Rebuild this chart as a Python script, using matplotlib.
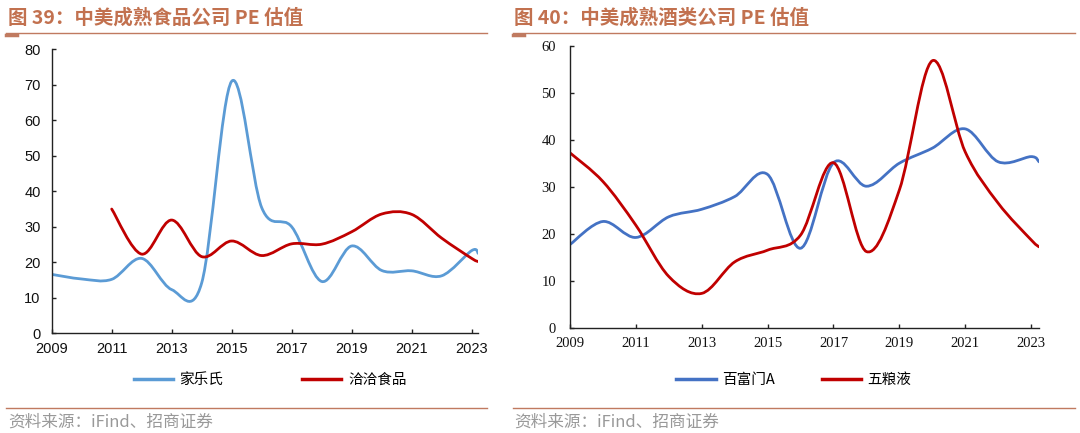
import matplotlib
matplotlib.use("Agg")
import matplotlib.pyplot as plt
from matplotlib.path import Path
from matplotlib.patches import PathPatch
from matplotlib.lines import Line2D

plt.rcParams['font.family'] = ['Noto Sans CJK SC', 'DejaVu Sans']

# ---------------- data ----------------
years_food = [2009, 2010, 2011, 2012, 2013, 2014, 2015, 2016, 2017, 2018, 2019, 2020, 2021, 2022, 2023, 2023.22]
kellogg = [16.6, 15.3, 15.2, 21.1, 12.3, 14.2, 71.0, 35.4, 30.0, 14.6, 24.6, 17.7, 17.6, 16.2, 23.3, 22.5]
years_qiaqia = [2011, 2012, 2013, 2014, 2015, 2016, 2017, 2018, 2019, 2020, 2021, 2022, 2023, 2023.22]
qiaqia = [35.0, 22.3, 31.9, 21.6, 26.0, 21.9, 25.2, 25.1, 28.6, 33.6, 33.5, 26.8, 21.1, 20.2]

years_liquor = [2009, 2010, 2011, 2012, 2013, 2014, 2015, 2016, 2017, 2018, 2019, 2020, 2021, 2022, 2023, 2023.24]
brown_forman = [17.7, 22.6, 19.2, 23.6, 25.2, 27.9, 32.6, 16.9, 35.1, 30.1, 35.0, 38.2, 42.3, 35.3, 36.4, 35.3]
wuliangye = [37.2, 31.1, 21.8, 10.9, 7.3, 14.0, 16.5, 19.7, 35.1, 16.2, 29.3, 56.8, 37.4, 26.5, 18.7, 17.2]

food_names = ['家乐氏', '洽洽食品']
liquor_names = ['百富门A', '五粮液']
xticks = [2009, 2011, 2013, 2015, 2017, 2019, 2021, 2023]
food_yticks = [0, 10, 20, 30, 40, 50, 60, 70, 80]
liquor_yticks = [0, 10, 20, 30, 40, 50, 60]
title_left = '图 39：中美成熟食品公司 PE 估值'
title_right = '图 40：中美成熟酒类公司 PE 估值'
source_text = '资料来源：iFind、招商证券'

TITLE_C = '#C2714F'
LINE_C = '#C07A60'


def smooth_path(xs, ys):
    """Excel-style smoothed line as cubic Bezier segments through the data points."""
    n = len(xs)
    verts = [(xs[0], ys[0])]
    codes = [Path.MOVETO]
    for i in range(n - 1):
        x0, y0 = (xs[i - 1], ys[i - 1]) if i > 0 else (xs[i], ys[i])
        x1, y1 = xs[i], ys[i]
        x2, y2 = xs[i + 1], ys[i + 1]
        x3, y3 = (xs[i + 2], ys[i + 2]) if i + 2 < n else (xs[i + 1], ys[i + 1])
        c1 = (x1 + (x2 - x0) / 6.0, y1 + (y2 - y0) / 6.0)
        c2 = (x2 - (x3 - x1) / 6.0, y2 - (y3 - y1) / 6.0)
        verts += [c1, c2, (x2, y2)]
        codes += [Path.CURVE4] * 3
    return Path(verts, codes)


def draw_series(ax, xs, ys, color):
    patch = PathPatch(smooth_path(xs, ys), fill=False, edgecolor=color, lw=2.0,
                      capstyle='round', joinstyle='round', transform=ax.transData)
    ax.add_patch(patch)


def style_axes(ax, xmax, ymax, yticks, fam, pad_y, pad_x):
    ax.set_xlim(2009, xmax)
    ax.set_ylim(0, ymax)
    ax.set_xticks(xticks)
    ax.set_yticks(yticks)
    for s in ['top', 'right']:
        ax.spines[s].set_visible(False)
    for s in ['left', 'bottom']:
        ax.spines[s].set_color('#222222')
        ax.spines[s].set_linewidth(1.0)
    ax.tick_params(axis='both', direction='in', length=3, width=1.0, colors='#222222')
    ax.tick_params(axis='y', pad=pad_y)
    ax.tick_params(axis='x', pad=pad_x)
    for lab in ax.get_xticklabels() + ax.get_yticklabels():
        lab.set_fontfamily(fam)
        lab.set_fontsize(10.5)
        lab.set_color('#111111')


fig = plt.figure(figsize=(10.8, 4.33), dpi=100)
W, H = 1080.0, 433.0

# left chart
ax1 = fig.add_axes([51.7 / W, 1 - 333.3 / H, (478.3 - 51.7) / W, (333.3 - 49.3) / H])
draw_series(ax1, years_food, kellogg, '#5B9BD5')
draw_series(ax1, years_qiaqia, qiaqia, '#C00000')
style_axes(ax1, 2023.22, 80, food_yticks, 'Liberation Sans', 8, 6)

# right chart
ax2 = fig.add_axes([570 / W, 1 - 327.7 / H, (1039 - 570) / W, (327.7 - 45.7) / H])
draw_series(ax2, years_liquor, brown_forman, '#4472C4')
draw_series(ax2, years_liquor, wuliangye, '#C00000')
style_axes(ax2, 2023.24, 60, liquor_yticks, 'Liberation Serif', 10, 7)

# legends
h1 = [Line2D([], [], color='#5B9BD5', lw=2.5), Line2D([], [], color='#C00000', lw=2.5)]
fig.legend(h1, food_names, loc='center', bbox_to_anchor=(270 / W, 1 - 380 / H), ncol=2,
           frameon=False, handlelength=2.7, handletextpad=0.45,
           columnspacing=5.4, prop={'family': ['Noto Sans CJK SC', 'DejaVu Sans'], 'size': 10.5})
h2 = [Line2D([], [], color='#4472C4', lw=2.5), Line2D([], [], color='#C00000', lw=2.5)]
fig.legend(h2, liquor_names, loc='center', bbox_to_anchor=(794 / W, 1 - 380 / H), ncol=2,
           frameon=False, handlelength=2.7, handletextpad=0.45,
           columnspacing=3.2, prop={'family': ['Noto Sans CJK SC', 'DejaVu Sans'], 'size': 10.5})

# titles
fig.text(8 / W, 1 - 18 / H, title_left, fontsize=14, fontweight='bold', color=TITLE_C,
         ha='left', va='center')
fig.text(514 / W, 1 - 18 / H, title_right, fontsize=14, fontweight='bold', color=TITLE_C,
         ha='left', va='center')

# header rules
fig.add_artist(Line2D([6 / W, 487 / W], [1 - 33 / H] * 2, color=LINE_C, lw=1.0))
fig.add_artist(Line2D([6 / W, 17 / W], [1 - 34.5 / H] * 2, color=LINE_C, lw=2.5))
fig.add_artist(Line2D([513 / W, 1075 / W], [1 - 33 / H] * 2, color=LINE_C, lw=1.0))
fig.add_artist(Line2D([513 / W, 524 / W], [1 - 34.5 / H] * 2, color=LINE_C, lw=2.5))

# footer rules and source
fig.add_artist(Line2D([6 / W, 487 / W], [1 - 408 / H] * 2, color=LINE_C, lw=1.0))
fig.add_artist(Line2D([513 / W, 1075 / W], [1 - 408 / H] * 2, color=LINE_C, lw=1.0))
fig.text(8 / W, 1 - 422 / H, source_text, fontsize=12, color='#999999', ha='left', va='center')
fig.text(514 / W, 1 - 422 / H, source_text, fontsize=12, color='#999999', ha='left', va='center')

fig.savefig('out.png', dpi=100)
